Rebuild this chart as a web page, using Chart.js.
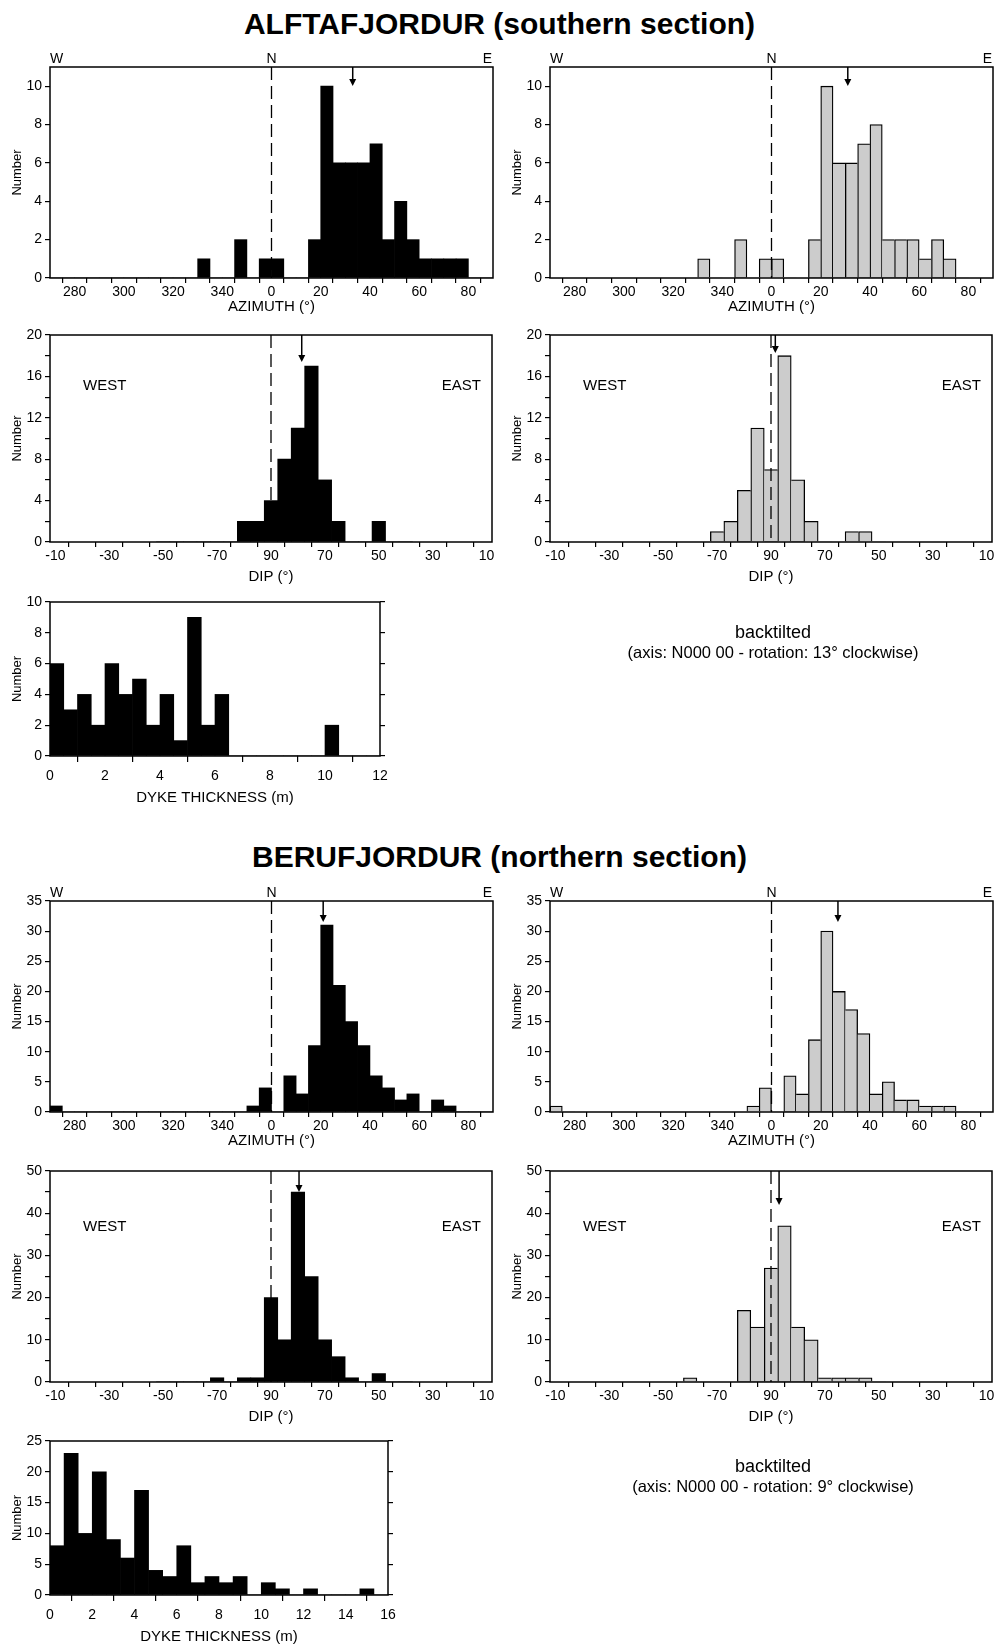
<!DOCTYPE html>
<html>
<head>
<meta charset="utf-8">
<script src="https://cdn.jsdelivr.net/npm/chart.js@4.4.1/dist/chart.umd.min.js"></script>
<style>
  body { margin: 0; background: #fff; }
  #page { position: relative; width: 999px; height: 1645px; overflow: hidden; font-family: "Liberation Sans", Arial, Helvetica, sans-serif; color: #000; }
  #page canvas { position: absolute; }
  .txt { position: absolute; text-align: center; white-space: nowrap; }
  .title { left: 0; width: 999px; font-weight: bold; font-size: 30px; line-height: 36px; }
  .note1 { left: 573px; width: 400px; font-size: 18px; line-height: 22px; }
  .note2 { left: 573px; width: 400px; font-size: 16.5px; line-height: 20px; }
</style>
</head>
<body>
<div id="page">
  <div class="txt title" style="top:6px">ALFTAFJORDUR (southern section)</div>
  <canvas id="c1"></canvas>
  <canvas id="c2"></canvas>
  <canvas id="c3"></canvas>
  <canvas id="c4"></canvas>
  <canvas id="c5"></canvas>
  <div class="txt note1" style="top:621px">backtilted</div>
  <div class="txt note2" style="top:642px">(axis: N000 00 - rotation: 13° clockwise)</div>

  <div class="txt title" style="top:839px">BERUFJORDUR (northern section)</div>
  <canvas id="c9"></canvas>
  <canvas id="c10"></canvas>
  <canvas id="c11"></canvas>
  <canvas id="c12"></canvas>
  <canvas id="c13"></canvas>
  <div class="txt note1" style="top:1455px">backtilted</div>
  <div class="txt note2" style="top:1476px">(axis: N000 00 - rotation: 9° clockwise)</div>
</div>
<script>
const FONT = '"Liberation Sans", Arial, Helvetica, sans-serif';
Chart.defaults.font.family = FONT;
Chart.defaults.color = '#000';

// azimuth classes, 5° wide, given by their start value
const azimuthBins = [270, 275, 280, 285, 290, 295, 300, 305, 310, 315, 320, 325, 330, 335, 340, 345, 350, 355,
                     0, 5, 10, 15, 20, 25, 30, 35, 40, 45, 50, 55, 60, 65, 70, 75, 80, 85];
const alftAzimuth    = [0,0,0,0,0,0,0,0,0,0,0,0, 1,0,0,2,0,1, 1,0,0,2,10,6,6,6,7,2,4,2,1,1,1,1,0,0];
const alftAzimuthBT  = [0,0,0,0,0,0,0,0,0,0,0,0, 1,0,0,2,0,1, 1,0,0,2,10,6,6,7,8,2,2,2,1,2,1,0,0,0];
const berufAzimuth   = [1,0,0,0,0,0,0,0,0,0,0,0,0,0,0,0, 1,4, 0,6,3,11,31,21,15,11,6,4,2,3,0,2,1,0,0,0];
const berufAzimuthBT = [1,0,0,0,0,0,0,0,0,0,0,0,0,0,0,0, 1,4, 0,6,3,12,30,20,17,13,3,5,2,2,1,1,1,0,0,0];

// dip classes, 5° wide, given by their centre (negative = west dipping)
const dipBins = [-50, -55, -60, -65, -70, -75, -80, -85, 90, 85, 80, 75, 70, 65, 60, 55, 50, 45, 40];
const alftDip    = [0,0,0,0,0,0,2,2,4,8,11,17,6,2,0,0,2,0,0];
const alftDipBT  = [0,0,0,0,1,2,5,11,7,18,6,2,0,0,1,1,0,0,0];
const berufDip   = [0,0,0,0,1,0,1,1,20,10,45,25,10,6,1,0,2,0,0];
const berufDipBT = [0,0,1,0,0,0,17,13,27,37,13,10,1,1,1,1,0,0,0];

// dyke thickness classes (m), given by their start value
const thicknessBinsA = [0,0.5,1,1.5,2,2.5,3,3.5,4,4.5,5,5.5,6,6.5,7,7.5,8,8.5,9,9.5,10,10.5,11,11.5];
const alftThickness  = [6,3,4,2,6,4,5,2,4,1,9,2,4,0,0,0,0,0,0,0,2,0,0,0];
const thicknessBinsB = [0,0.667,1.333,2,2.667,3.333,4,4.667,5.333,6,6.667,7.333,8,8.667,9.333,10,
                        10.667,11.333,12,12.667,13.333,14,14.667,15.333];
const berufThickness = [8,23,10,20,9,6,17,4,3,8,2,3,2,3,0,2,1,0,1,0,0,0,1,0];

// mean directions (arrows)
const alftMeanAz = 33, alftMeanAzBT = 31, berufMeanAz = 21, berufMeanAzBT = 27;
const alftMeanDip = 78.6, alftMeanDipBT = 88.4, berufMeanDip = 79.6, berufMeanDipBT = 87;

const compassLabels = ['W', 'N', 'E'];
const sideLabels = ['WEST', 'EAST'];

// axis helpers
const azAxis = (a) => (a >= 180 ? a - 360 : a);
const azCentre = (a) => azAxis(a) + 2.5;
const azTick = (v) => (v % 20 === 0 ? String((v + 360) % 360) : '');
const dipAxis = (d) => (d < 0 ? -d - 10 : 170 - d);
const dipTick = (p) => {
  if (p % 20 !== 0) return '';
  if (p < 80) return String(-(p + 10));
  if (p === 80) return '90';
  return String(170 - p);
};

// box, reference line, mean arrow and direction labels
const frame = {
  id: 'frame',
  afterDatasetsDraw(chart, args, o) {
    const { ctx, chartArea: a } = chart;
    const x = chart.scales.x;
    ctx.save();
    ctx.strokeStyle = '#000';
    ctx.fillStyle = '#000';
    if (o.ref != null) {
      const px = x.getPixelForValue(o.ref);
      ctx.lineWidth = 1.3;
      ctx.setLineDash([13, 6]);
      ctx.beginPath();
      ctx.moveTo(px, a.top);
      ctx.lineTo(px, a.bottom);
      ctx.stroke();
      ctx.setLineDash([]);
    }
    if (o.mean != null) {
      const px = x.getPixelForValue(o.mean);
      const tip = a.top + o.arrow;
      ctx.lineWidth = 1.5;
      ctx.beginPath();
      ctx.moveTo(px, a.top);
      ctx.lineTo(px, tip - 4);
      ctx.stroke();
      ctx.beginPath();
      ctx.moveTo(px - 3.5, tip - 7);
      ctx.lineTo(px + 3.5, tip - 7);
      ctx.lineTo(px, tip);
      ctx.closePath();
      ctx.fill();
    }
    ctx.lineWidth = 1.5;
    ctx.strokeRect(a.left, a.top, a.width, a.height);
    if (o.compass) {
      ctx.font = '14px ' + FONT;
      ctx.textBaseline = 'alphabetic';
      const y = a.top - o.compass;
      ctx.textAlign = 'left';
      ctx.fillText(compassLabels[0], a.left, y);
      ctx.textAlign = 'center';
      ctx.fillText(compassLabels[1], x.getPixelForValue(0), y);
      ctx.textAlign = 'right';
      ctx.fillText(compassLabels[2], a.right - 1, y);
    }
    if (o.sides) {
      ctx.font = '15px ' + FONT;
      ctx.textBaseline = 'middle';
      ctx.textAlign = 'left';
      ctx.fillText(sideLabels[0], a.left + 33, a.top + o.sides);
      ctx.textAlign = 'right';
      ctx.fillText(sideLabels[1], a.right - 11, a.top + o.sides);
    }
    ctx.restore();
  }
};

// outline for grey bars: one line between neighbours, drawn by the taller one
function greyBorder(c) {
  const d = c.dataset.data, i = c.dataIndex;
  const h = d[i].y;
  const prev = i > 0 ? d[i - 1].y : 0;
  const next = i < d.length - 1 ? d[i + 1].y : 0;
  return { top: 1.3, bottom: 0, left: prev <= h ? 1.3 : 0, right: next < h ? 1.3 : 0 };
}

function histogram(id, area, o) {
  const padL = 52, padT = 34, padB = 64;
  const padR = o.mirror ? 4 : 10;
  const mirrorW = o.mirror ? 10 : 0;
  const el = document.getElementById(id);
  const W = padL + area.w + mirrorW + padR;
  const H = padT + area.h + padB;
  el.width = W; el.height = H;
  el.style.width = W + 'px'; el.style.height = H + 'px';
  el.style.left = (area.x - padL) + 'px';
  el.style.top = (area.y - padT) + 'px';

  const points = o.bins.map((b, i) => ({ x: o.pos(b), y: o.values[i] }));
  const tickGrid = (len) => ({ display: true, drawOnChartArea: false, drawTicks: true, tickLength: len, color: '#000', lineWidth: 1.2 });

  const scales = {
    x: {
      type: 'linear', min: o.xMin, max: o.xMax, offset: false,
      grid: tickGrid(o.xTickLen || 5),
      border: { display: false },
      ticks: { stepSize: o.xStep, autoSkip: false, maxRotation: 0, includeBounds: false, padding: o.xPad || 1,
               font: { size: 14 }, color: '#000', callback: o.xLabel },
      title: { display: true, text: o.xTitle, font: { size: 15 }, color: '#000',
               padding: { top: 0, bottom: padB - 9 - o.titleGap } },
      afterFit: (s) => { s.height = padB; }
    },
    y: {
      min: 0, max: o.yMax,
      grid: tickGrid(5),
      border: { display: false },
      ticks: { stepSize: o.yStep, includeBounds: false, padding: 3, font: { size: 14 }, color: '#000', callback: o.yLabel },
      title: { display: true, text: 'Number', font: { size: 13 }, color: '#000', padding: { top: 12, bottom: 0 } },
      afterFit: (s) => { s.width = padL; }
    }
  };
  if (o.mirror) {
    scales.y2 = {
      position: 'right', min: 0, max: o.yMax,
      grid: tickGrid(5),
      border: { display: false },
      ticks: { display: false, stepSize: o.yStep, includeBounds: false },
      afterFit: (s) => { s.width = mirrorW; }
    };
  }

  return new Chart(el, {
    type: 'bar',
    data: {
      datasets: [{
        data: points,
        backgroundColor: o.grey ? '#cccccc' : '#000000',
        borderColor: '#000000',
        borderWidth: o.grey ? greyBorder : 0,
        borderSkipped: 'start',
        barPercentage: 1,
        categoryPercentage: 1
      }]
    },
    options: {
      responsive: false, animation: false, devicePixelRatio: 1,
      layout: { padding: { top: padT, right: padR, left: 0, bottom: 0 } },
      plugins: {
        legend: { display: false }, tooltip: { enabled: false },
        frame: { ref: o.ref, mean: o.mean, arrow: o.arrow, compass: o.compass, sides: o.sides }
      },
      scales
    },
    plugins: [frame]
  });
}

function azimuthPanel(id, area, values, mean, grey, yMax, yStep, arrow) {
  return histogram(id, area, {
    bins: azimuthBins, values, pos: azCentre, xMin: -90, xMax: 90, xStep: 10, xLabel: azTick,
    xTitle: 'AZIMUTH (°)', titleGap: 29, yMax, yStep, yLabel: (v) => v,
    grey, ref: 0, mean: azAxis(mean), arrow, compass: 4
  });
}

function dipPanel(id, area, values, mean, grey, yMax, yStep, yLabelStep, arrow, sides) {
  return histogram(id, area, {
    bins: dipBins, values, pos: dipAxis, xMin: -2, xMax: 162, xStep: 10, xLabel: dipTick,
    xTitle: 'DIP (°)', titleGap: 35, yMax, yStep, yLabel: (v) => (v % yLabelStep === 0 ? v : ''),
    grey, ref: 80, mean: dipAxis(mean), arrow, sides
  });
}

function thicknessPanel(id, area, bins, values, binWidth, xMax, yMax, yStep) {
  return histogram(id, area, {
    bins, values, pos: (t) => t + binWidth / 2, xMin: 0, xMax, xStep: 2, xLabel: (v) => v,
    xTitle: 'DYKE THICKNESS (m)', titleGap: 42, xTickLen: 6, xPad: 6,
    yMax, yStep, yLabel: (v) => v, mirror: true
  });
}

// ALFTAFJORDUR
azimuthPanel('c1', { x: 50, y: 67, w: 443, h: 211 }, alftAzimuth, alftMeanAz, false, 11, 2, 19);
azimuthPanel('c2', { x: 550, y: 67, w: 443, h: 211 }, alftAzimuthBT, alftMeanAzBT, true, 11, 2, 19);
dipPanel('c3', { x: 50, y: 335, w: 442, h: 207 }, alftDip, alftMeanDip, false, 20, 2, 4, 27, 51);
dipPanel('c4', { x: 550, y: 335, w: 442, h: 207 }, alftDipBT, alftMeanDipBT, true, 20, 2, 4, 18, 51);
thicknessPanel('c5', { x: 50, y: 602, w: 330, h: 154 }, thicknessBinsA, alftThickness, 0.5, 12, 10, 2);

// BERUFJORDUR
azimuthPanel('c9', { x: 50, y: 901, w: 443, h: 211 }, berufAzimuth, berufMeanAz, false, 35, 5, 21);
azimuthPanel('c10', { x: 550, y: 901, w: 443, h: 211 }, berufAzimuthBT, berufMeanAzBT, true, 35, 5, 21);
dipPanel('c11', { x: 50, y: 1171, w: 442, h: 211 }, berufDip, berufMeanDip, false, 50, 5, 10, 21, 56);
dipPanel('c12', { x: 550, y: 1171, w: 442, h: 211 }, berufDipBT, berufMeanDipBT, true, 50, 5, 10, 34, 56);
thicknessPanel('c13', { x: 50, y: 1441, w: 338, h: 154 }, thicknessBinsB, berufThickness, 0.667, 16, 25, 5);
</script>
</body>
</html>
